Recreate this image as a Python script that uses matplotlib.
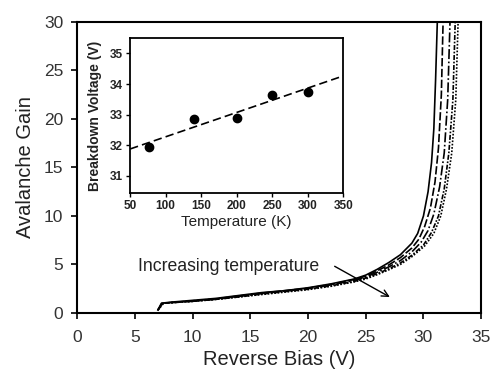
import numpy as np
import matplotlib
matplotlib.use("Agg")
import matplotlib.pyplot as plt

plt.rcParams['font.family'] = ['Liberation Sans', 'DejaVu Sans']

# gain curves, one per temperature (lowest T = leftmost)
bias_77 = [7.0, 7.3, 8, 10, 12, 14, 16, 18, 20, 22, 24, 25, 26, 27, 28, 29, 29.5, 30, 30.4, 30.7, 30.9, 31.05, 31.2]
gain_77 = [0.3, 1.0, 1.1, 1.3, 1.5, 1.8, 2.1, 2.3, 2.6, 3.0, 3.5, 3.9, 4.5, 5.2, 6.0, 7.2, 8.2, 10.0, 12.5, 15.5, 19.0, 24.0, 30.0]
bias_140 = [7.0, 7.35, 8, 10, 12, 14, 16, 18, 20, 22, 24, 25, 26, 27, 28, 29, 29.6, 30.1, 30.6, 31.0, 31.3, 31.55, 31.7]
gain_140 = [0.3, 1.0, 1.05, 1.25, 1.45, 1.75, 2.05, 2.3, 2.55, 2.95, 3.45, 3.8, 4.35, 4.95, 5.7, 6.7, 7.6, 8.9, 10.8, 13.5, 17.0, 22.5, 30.0]
bias_200 = [7.0, 7.4, 8, 10, 12, 14, 16, 18, 20, 22, 24, 25, 26, 27, 28, 29, 29.8, 30.4, 30.9, 31.4, 31.8, 32.1, 32.3]
gain_200 = [0.3, 1.0, 1.05, 1.2, 1.4, 1.7, 2.0, 2.25, 2.5, 2.9, 3.35, 3.7, 4.2, 4.75, 5.4, 6.3, 7.3, 8.5, 10.2, 13.0, 16.5, 22.0, 30.0]
bias_250 = [7.0, 7.45, 8, 10, 12, 14, 16, 18, 20, 22, 24, 25, 26, 27, 28, 29, 30.0, 30.7, 31.3, 31.8, 32.2, 32.55, 32.75]
gain_250 = [0.3, 1.0, 1.05, 1.2, 1.4, 1.65, 1.95, 2.2, 2.45, 2.8, 3.25, 3.6, 4.05, 4.55, 5.15, 5.95, 7.0, 8.3, 10.0, 12.8, 16.5, 22.0, 30.0]
bias_300 = [7.0, 7.5, 8, 10, 12, 14, 16, 18, 20, 22, 24, 25, 26, 27, 28, 29, 30.1, 30.9, 31.5, 32.0, 32.45, 32.8, 33.0]
gain_300 = [0.3, 1.0, 1.05, 1.2, 1.4, 1.65, 1.9, 2.15, 2.4, 2.75, 3.2, 3.5, 3.95, 4.45, 5.0, 5.8, 6.9, 8.2, 10.0, 12.8, 16.5, 22.0, 30.0]

# inset: breakdown voltage vs temperature
temperature = [77, 140, 200, 250, 300]
breakdown = [31.95, 32.85, 32.9, 33.65, 33.75]

fig = plt.figure(figsize=(4.91, 3.73), dpi=100)
ax = fig.add_axes([0.157, 0.161, 0.823, 0.780])

curves = [(bias_77, gain_77, '-'),
          (bias_140, gain_140, (0, (5, 1.5))),
          (bias_200, gain_200, (0, (6, 1.5, 1, 1.5))),
          (bias_250, gain_250, (0, (3, 1, 1, 1))),
          (bias_300, gain_300, (0, (1, 1)))]
for v, g, ls in curves:
    ax.plot(v, g, color='black', lw=1.2, linestyle=ls)

ax.set_xlim(0, 35)
ax.set_ylim(0, 30)
ax.set_xticks(range(0, 36, 5))
ax.set_yticks(range(0, 31, 5))
ax.tick_params(direction='out', length=4, width=1.2, labelsize=12.5, pad=6,
               colors='black', labelcolor='#333333')
ax.tick_params(axis='x', pad=8)
for s in ax.spines.values():
    s.set_linewidth(1.5)
ax.set_xlabel('Reverse Bias (V)', fontsize=14.5, color='#222222', labelpad=4)
ax.set_ylabel('Avalanche Gain', fontsize=14.5, color='#222222', labelpad=6)

ax.text(5.3, 4.75, 'Increasing temperature', fontsize=12.7, ha='left', va='center',
        color='#222222')
ax.annotate('', xy=(27.3, 1.5), xytext=(22.1, 4.95),
            arrowprops=dict(arrowstyle='->', color='black', lw=1.0,
                            mutation_scale=12))

# inset
ins = fig.add_axes([0.265, 0.483, 0.434, 0.415])
ins.plot(temperature, breakdown, 'o', color='black', markersize=6)
fit = np.polyfit(temperature, breakdown, 1)
tx = np.array([50, 350])
ins.plot(tx, np.polyval(fit, tx), color='black', lw=1.2, linestyle=(0, (5, 2.5)))
ins.set_xlim(50, 350)
ins.set_ylim(30.45, 35.5)
ins.set_xticks(range(50, 351, 50))
ins.set_yticks(range(31, 36))
ins.tick_params(direction='out', length=3, width=1.0, labelsize=8.5, pad=2,
                labelcolor='#222222')
for lab in ins.get_xticklabels() + ins.get_yticklabels():
    lab.set_fontweight('bold')
for s in ins.spines.values():
    s.set_linewidth(1.3)
ins.set_xlabel('Temperature (K)', fontsize=11, color='#222222', labelpad=2)
ins.set_ylabel('Breakdown Voltage (V)', fontsize=10, fontweight='bold',
               color='#222222', labelpad=6)

fig.savefig('out.png', dpi=100)
